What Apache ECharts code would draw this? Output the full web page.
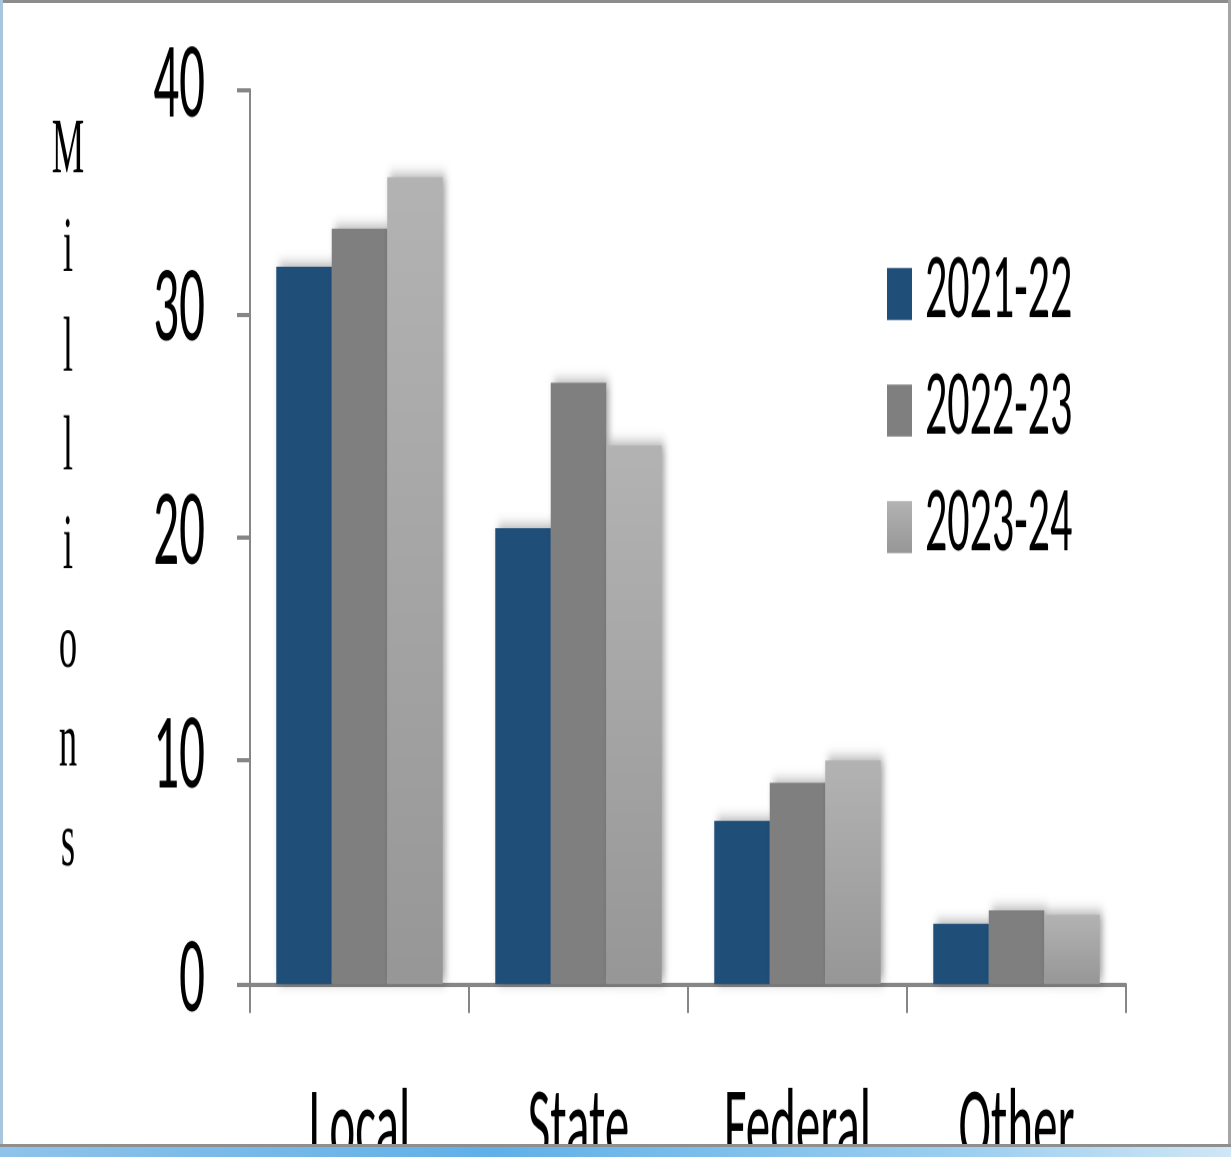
<!DOCTYPE html>
<html>
<head>
<meta charset="utf-8">
<script src="https://cdn.jsdelivr.net/npm/echarts@6/dist/echarts.min.js"></script>
<style>
html, body { margin: 0; padding: 0; background: #fff; overflow: hidden; }
#page { position: relative; width: 1231px; height: 1157px; overflow: hidden; background: #fff; }
/* the source picture is stretched vertically, so draw flat and stretch the canvas */
#chart { position: absolute; left: 0; top: 0; width: 1231px; height: 551px; transform: scaleY(2.1); transform-origin: 0 0; }
.edge { position: absolute; }
</style>
</head>
<body>
<div id="page">
    <div id="chart"></div>
    <div class="edge" style="left:0;top:0;width:1231px;height:3px;background:#8c8c8c;"></div>
    <div class="edge" style="left:0;top:0;width:3px;height:1147px;background:#a9c6dd;"></div>
    <div class="edge" style="left:1228px;top:0;width:3px;height:1147px;background:#a6a6a6;"></div>
    <div class="edge" style="left:0;top:1144px;width:1231px;height:3px;background:#8f8f8f;"></div>
    <div class="edge" style="left:0;top:1147px;width:1231px;height:10px;background:linear-gradient(90deg,#8fc3ea,#5fb0e8 40%,#9fd0f0 80%,#cfe6f5);"></div>
</div>
<script>
// 数据
const categories = ['Local', 'State', 'Federal', 'Other'];
const years = ['2021-22', '2022-23', '2023-24'];
const values2122 = [32.1, 20.4, 7.3, 2.7];
const values2223 = [33.8, 26.9, 9.0, 3.3];
const values2324 = [36.1, 24.1, 10.0, 3.1];
const axisTitle = 'Millions';

const sansFont = 'Carlito, "DejaVu Sans Condensed", "Liberation Sans Narrow", Lato, sans-serif';
const axisGray = '#868686';

const chart = echarts.init(document.getElementById('chart'), null, { renderer: 'canvas', devicePixelRatio: 2 });

const barShadow = {
    shadowBlur: 6,
    shadowColor: 'rgba(0,0,0,0.35)',
    shadowOffsetX: 3,
    shadowOffsetY: -1
};

const option = {
    animation: false,
    backgroundColor: '#fff',
    grid: { left: 250, right: 105, top: 42.86, bottom: 82.43, containLabel: false, outerBoundsMode: 'none' },
    legend: {
        orient: 'vertical',
        left: 887,
        top: 118,
        padding: 0,
        itemWidth: 25,
        itemHeight: 24.8,
        itemGap: 11.5,
        icon: 'rect',
        data: years,
        textStyle: { fontSize: 44, fontFamily: sansFont, color: '#000', lineHeight: 25, padding: [0, 0, 0, 8] }
    },
    graphic: [{
        type: 'text',
        x: 68,
        y: 49,
        style: {
            text: axisTitle.split('').join('\n'),
            fontFamily: '"Liberation Serif", "DejaVu Serif", serif',
            fontSize: 36.5,
            lineHeight: 47.1,
            align: 'center',
            verticalAlign: 'top',
            fill: '#000'
        }
    }],
    xAxis: {
        type: 'category',
        data: categories,
        axisLine: { lineStyle: { color: axisGray, width: 2 } },
        axisTick: { show: true, length: 13.8, lineStyle: { color: axisGray, width: 2 } },
        axisLabel: { margin: 46.7, fontSize: 49, fontFamily: sansFont, color: '#000' },
        splitLine: { show: false }
    },
    yAxis: {
        type: 'value',
        min: 0,
        max: 40,
        interval: 10,
        axisLine: { show: true, lineStyle: { color: axisGray, width: 2 } },
        axisTick: { show: true, length: 13, lineStyle: { color: axisGray, width: 2 } },
        axisLabel: { margin: 45, fontSize: 51, fontFamily: sansFont, color: '#000', padding: [8, 0, 0, 0] },
        splitLine: { show: false }
    },
    series: [
        {
            name: years[0],
            type: 'bar',
            data: values2122,
            barGap: '0%',
            barCategoryGap: '24%',
            itemStyle: Object.assign({ color: '#1f4e79' }, barShadow)
        },
        {
            name: years[1],
            type: 'bar',
            data: values2223,
            itemStyle: Object.assign({ color: '#7f7f7f' }, barShadow)
        },
        {
            name: years[2],
            type: 'bar',
            data: values2324,
            itemStyle: Object.assign({
                color: new echarts.graphic.LinearGradient(0, 0, 0, 1, [
                    { offset: 0, color: '#b3b3b3' },
                    { offset: 1, color: '#979797' }
                ])
            }, barShadow)
        }
    ]
};

chart.setOption(option);
</script>
</body>
</html>
